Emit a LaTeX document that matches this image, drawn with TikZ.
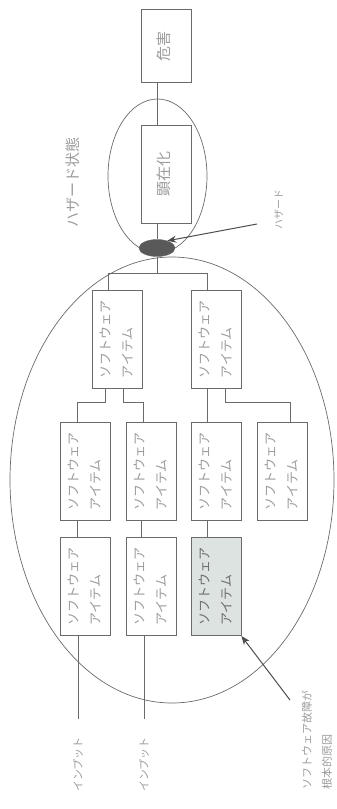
\documentclass[tikz,border=0pt]{standalone}
\usepackage{fontspec}
\setmainfont{Noto Sans CJK JP}
\usetikzlibrary{arrows.meta,shapes.geometric}

\definecolor{linegray}{HTML}{6A6A6A}
\definecolor{textgray}{HTML}{9C9C9C}
\definecolor{faultfill}{HTML}{DCE3E0}
\newcommand{\vtext}[1]{\rotatebox{90}{\begin{tabular}{@{}l@{}}#1\end{tabular}}}

\begin{document}
\begin{tikzpicture}[
    x=1pt, y=-1pt,
    >={Stealth[length=9pt,width=7pt]},
    every node/.style={text=textgray, inner sep=0pt},
    box/.style={draw=linegray, line width=0.8pt, fill=white, align=center},
    topbox/.style={box, minimum width=50pt, minimum height=73pt, font=\fontsize{15}{18}\selectfont},
    onsetbox/.style={topbox, minimum height=98pt},
    itembox/.style={box, minimum width=50pt, minimum height=98pt, font=\fontsize{13}{22}\selectfont},
    faultbox/.style={itembox, fill=faultfill, text=textgray!70!black},
    junction/.style={ellipse, draw=linegray, fill=black!65, minimum width=36pt, minimum height=17pt},
    ring/.style={draw=linegray, line width=0.7pt},
    wire/.style={draw=linegray, line width=0.8pt},
    pointer/.style={->, draw=black!70, line width=1pt},
    note/.style={font=\fontsize{11}{20}\selectfont},
]
\useasboundingbox (0,0) rectangle (337,809);

% ---- Rings ----
\draw[ring] (172,480) ellipse [x radius=162, y radius=223];
\draw[ring] (157.5,176) ellipse [x radius=49.5, y radius=77];

% ---- Top: harm chain ----
\node[topbox] (harm) at (166,46) {\vtext{危害}};
\node[onsetbox] (onset) at (166,174) {\vtext{顕在化}};
\node[junction] (hz) at (157,248) {};
\draw[wire] ([xshift=-9pt]harm.south) -- ([xshift=-9pt]onset.north);
\draw[wire] ([xshift=-9pt]onset.south) -- (hz.north);

\node[note, font=\fontsize{15}{18}\selectfont] (hslabel) at (75,182) {\vtext{ハザード状態}};
\node[note, font=\fontsize{10}{12}\selectfont] (hzlabel) at (280,209) {\vtext{ハザード}};
\coordinate (hzsrc) at (257,224);
\draw[pointer] (hzsrc) -- (hz.35);

% ---- Software items ----
\node[itembox] (s1) at (117,339) {\vtext{ソフトウェア\\アイテム}};
\node[itembox] (s2) at (216,339) {\vtext{ソフトウェア\\アイテム}};

\node[itembox] (s3) at (85,471) {\vtext{ソフトウェア\\アイテム}};
\node[itembox] (s4) at (151,471) {\vtext{ソフトウェア\\アイテム}};
\node[itembox] (s5) at (216,471) {\vtext{ソフトウェア\\アイテム}};
\node[itembox] (s6) at (282.5,471) {\vtext{ソフトウェア\\アイテム}};

\node[itembox] (s7) at (85,586.5) {\vtext{ソフトウェア\\アイテム}};
\node[itembox] (s8) at (151,586.5) {\vtext{ソフトウェア\\アイテム}};
\node[faultbox] (s9) at (216,586.5) {\vtext{ソフトウェア\\アイテム}};

% Tree wiring
\coordinate (t1) at (157,273);
\draw[wire] (hz.south) -- (t1);
\draw[wire] (t1) -| ([xshift=-9pt]s1.north);
\draw[wire] (t1) -| ([xshift=-9pt]s2.north);

\draw[wire] ([xshift=-12pt]s1.south) -- ++(0,14) -| ([xshift=-8pt]s3.north);
\draw[wire] ([xshift=6pt]s1.south) -- ++(0,14) -| ([xshift=-8pt]s4.north);
\draw[wire] ([xshift=-9pt]s2.south) -- ([xshift=-9pt]s5.north);
\draw[wire] ([xshift=9pt]s2.south) -- ++(0,14) -| ([xshift=7.5pt]s6.north);

\draw[wire] ([xshift=-8pt]s3.south) -- ([xshift=-8pt]s7.north);
\draw[wire] ([xshift=-10pt]s4.south) -- ([xshift=-10pt]s8.north);
\draw[wire] ([xshift=-9pt]s5.south) -- ([xshift=-9pt]s9.north);

% ---- Inputs ----
\node[note, anchor=north] (in1) at (78,737) {\vtext{インプット}};
\node[note, anchor=north] (in2) at (144,737) {\vtext{インプット}};
\draw[wire] ([xshift=-7pt]s7.south) -- ([yshift=18pt]in1.north);
\draw[wire] ([xshift=-7pt]s8.south) -- ([yshift=18pt]in2.north);

% ---- Root cause ----
\node[note, anchor=south] (rclabel) at (317,790) {\vtext{ソフトウェア故障が\\根本的原因}};
\coordinate (rcsrc) at (290,700);
\draw[pointer] (rcsrc) -- (s9.south east);

\end{tikzpicture}
\end{document}
